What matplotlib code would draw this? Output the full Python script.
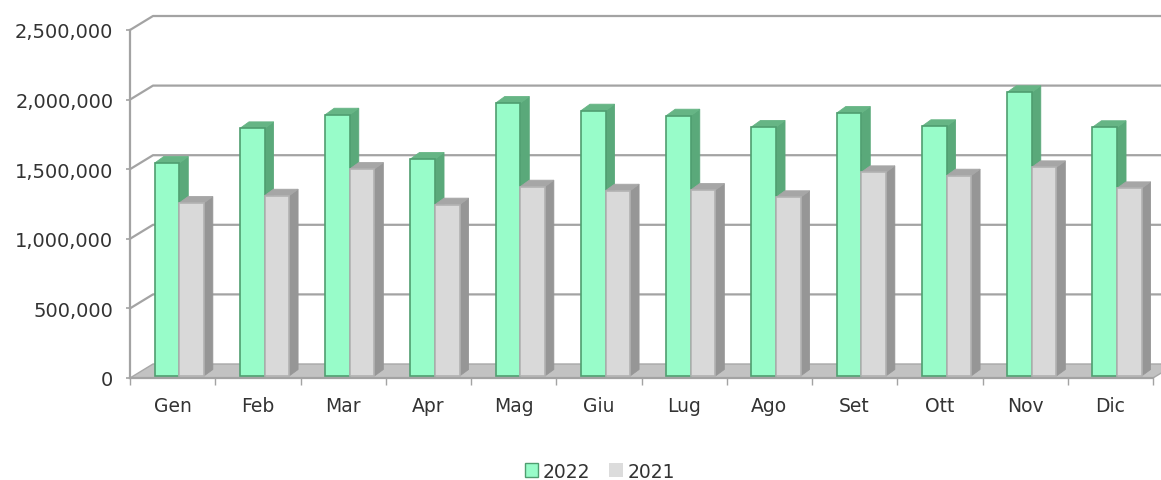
import matplotlib
matplotlib.use("Agg")
import matplotlib.pyplot as plt
from matplotlib.patches import Polygon, Patch
from matplotlib.lines import Line2D
from matplotlib.transforms import IdentityTransform, offset_copy
import numpy as np

# monthly totals
months = ["Gen", "Feb", "Mar", "Apr", "Mag", "Giu", "Lug", "Ago", "Set", "Ott", "Nov", "Dic"]
sales_2022 = [1530000, 1779000, 1877000, 1559000, 1961000, 1906000,
              1870000, 1789000, 1889000, 1794000, 2038000, 1787000]
sales_2021 = [1243000, 1295000, 1487000, 1231000, 1360000, 1331000,
              1336000, 1284000, 1463000, 1439000, 1499000, 1348000]
y_ticks = [0, 500000, 1000000, 1500000, 2000000, 2500000]

W, H = 1161, 481
fig = plt.figure(figsize=(W / 100, H / 100), dpi=100)
ax = fig.add_axes([130 / W, 102 / H, (1153 - 130) / W, (450 - 102) / H])
ax.set_xlim(-0.5, len(months) - 0.5)
ax.set_ylim(0, y_ticks[-1])
ax.patch.set_visible(False)
for s in ax.spines.values():
    s.set_visible(False)

WALL = np.array([23.0, 14.0])   # depth of the back wall, pixels
BAR = np.array([9.0, 6.5])      # depth of each bar
LIFT = np.array([0.0, 2.0])     # bars stand slightly inside the floor
axis_col = "#a3a3a3"
text_col = "#333333"
ident = IdentityTransform()


def px(x, y):
    return ax.transData.transform((x, y))


x0, x1 = -0.5, len(months) - 0.5

# back wall gridlines with their diagonal run-in from the front axis
for v in y_ticks[1:]:
    f = px(x0, v)
    b = f + WALL
    e = px(x1, v) + WALL
    ax.add_line(Line2D([f[0], b[0], e[0]], [f[1], b[1], e[1]], color=axis_col,
                       lw=1.6, transform=ident, clip_on=False, zorder=1))

# floor
fl, fr = px(x0, 0), px(x1, 0)
ax.add_patch(Polygon([fl, fr, fr + WALL, fl + WALL], closed=True, fc="#c2c2c2",
                     ec="#a8a8a8", lw=1, transform=ident, clip_on=False, zorder=2))

# front axes
top = px(x0, y_ticks[-1])
ax.add_line(Line2D([fl[0], top[0]], [fl[1], top[1]], color=axis_col, lw=1.6,
                   transform=ident, clip_on=False, zorder=2))
ax.add_line(Line2D([fl[0], fr[0]], [fl[1], fr[1]], color=axis_col, lw=1.6,
                   transform=ident, clip_on=False, zorder=2))

bar_tr = offset_copy(ax.transData, fig=fig, x=LIFT[0], y=LIFT[1], units="dots")
xs = np.arange(len(months))
bw = 0.288
series = [
    (sales_2022, -0.21, "#98fcc9", "#4f9e70", "#5aa97a", "#66b585"),
    (sales_2021, -0.21 + bw, "#d9d9d9", "#b2b2b2", "#969696", "#a6a6a6"),
]

for i in xs:
    for vals, off, face, edge, side, topc in series:
        v = vals[i]
        xl, xr = i + off, i + off + bw
        br = px(xr, 0) + LIFT
        tl = px(xl, v) + LIFT
        trr = px(xr, v) + LIFT
        ax.add_patch(Polygon([br, trr, trr + BAR, br + BAR], closed=True, fc=side,
                             ec=side, lw=0.6, transform=ident, clip_on=False, zorder=3))
        ax.add_patch(Polygon([tl, trr, trr + BAR, tl + BAR], closed=True, fc=topc,
                             ec=topc, lw=0.6, transform=ident, clip_on=False, zorder=3))
        ax.bar(xl, v, width=bw, align="edge", color=face, edgecolor=edge, lw=1.2,
               transform=bar_tr, zorder=3, clip_on=False)

# ticks and labels
ax.set_yticks(y_ticks)
ax.set_yticklabels([f"{t:,}" for t in y_ticks])
ax.tick_params(axis="y", direction="out", length=3, width=1.2, color=axis_col,
               pad=9, labelsize=14, labelcolor=text_col)
ax.set_xticks(xs)
ax.set_xticklabels(months)
ax.set_xticks(np.arange(len(months) + 1) - 0.5, minor=True)
ax.tick_params(axis="x", which="major", length=0, pad=13, labelsize=13.5,
               labelcolor=text_col)
ax.tick_params(axis="x", which="minor", direction="out", length=5, width=1,
               color=axis_col)

handles = [Patch(fc="#98fcc9", ec="#4f9e70", lw=1), Patch(fc="#dcdcdc", ec="none")]
fig.legend(handles, ["2022", "2021"], loc="center", bbox_to_anchor=(600 / W, 1 - 472 / H),
           ncol=2, frameon=False, handlelength=0.7, handleheight=0.7, handletextpad=0.25,
           columnspacing=1.0, fontsize=13.5, labelcolor=text_col)

fig.savefig("out.png", dpi=100)
